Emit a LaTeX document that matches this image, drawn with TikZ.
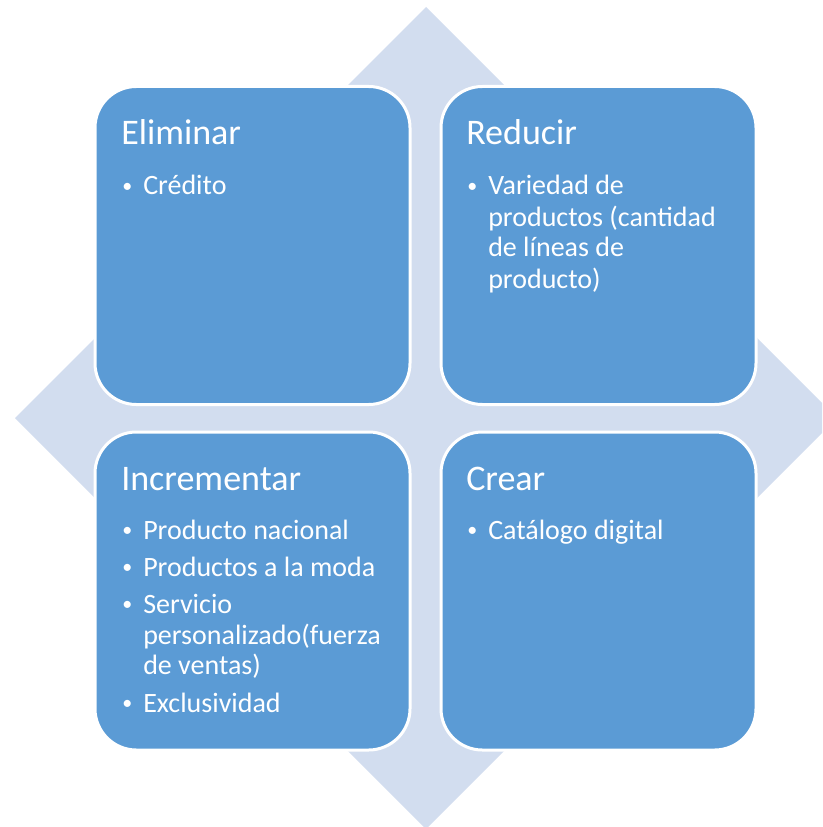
\documentclass[tikz,border=0pt]{standalone}
\usepackage{fontspec}
\setmainfont{Carlito}
\definecolor{boxblue}{HTML}{5B9BD5}
\definecolor{diamondblue}{HTML}{D2DDEF}
\tikzset{
  quad/.style={fill=boxblue, draw=white, line width=2.25pt, rounded corners=31pt,
    minimum width=236.25pt, minimum height=238.5pt, inner sep=0pt, outer sep=0pt},
  qtitle/.style={anchor=base west, text=white, font=\fontsize{27}{32}\selectfont, inner sep=0pt},
  qitem/.style={anchor=base west, text=white, font=\fontsize{21}{23.25}\selectfont, inner sep=0pt},
}
\newcommand{\qbul}{\llap{\makebox[24pt][c]{\raisebox{1.6pt}{\fontsize{15}{15}\selectfont •}}}}
\begin{document}
\begin{tikzpicture}[x=0.75pt, y=-0.75pt]
\useasboundingbox (0,0) rectangle (822,827);
\begin{scope}
  \clip (0,0) rectangle (822,827);
  \coordinate (dt) at (426,7);
  \coordinate (dr) at (837,418);
  \coordinate (db) at (426,829);
  \coordinate (dl) at (15,418);
  \fill[diamondblue] (dt) -- (dr) -- (db) -- (dl) -- cycle;
\end{scope}
\node[quad] (tl) at (252.5,245.5) {};
\node[quad] (tr) at (598.5,245.5) {};
\node[quad] (bl) at (252.5,591) {};
\node[quad] (br) at (598.5,591) {};
% top left
\node[qtitle] (t1) at (121,145) {Eliminar};
\node[qitem] (a1) at (143,195) {\qbul Crédito};
% top right
\node[qtitle] (t2) at (466,145) {Reducir};
\node[qitem] (b1) at (488,195) {\qbul Variedad de};
\node[qitem] (b2) at (488,226) {productos (cantidad};
\node[qitem] (b3) at (488,257) {de líneas de};
\node[qitem] (b4) at (488,288) {producto)};
% bottom left
\node[qtitle] (t3) at (121,490) {Incrementar};
\node[qitem] (c1) at (143,539) {\qbul Producto nacional};
\node[qitem] (c2) at (143,576) {\qbul Productos a la moda};
\node[qitem] (c3) at (143,613) {\qbul Servicio};
\node[qitem] (c4) at (143,644) {personalizado(fuerza};
\node[qitem] (c5) at (143,674) {de ventas)};
\node[qitem] (c6) at (143,712) {\qbul Exclusividad};
% bottom right
\node[qtitle] (t4) at (466,490) {Crear};
\node[qitem] (d1) at (488,539) {\qbul Catálogo digital};
\end{tikzpicture}
\end{document}
